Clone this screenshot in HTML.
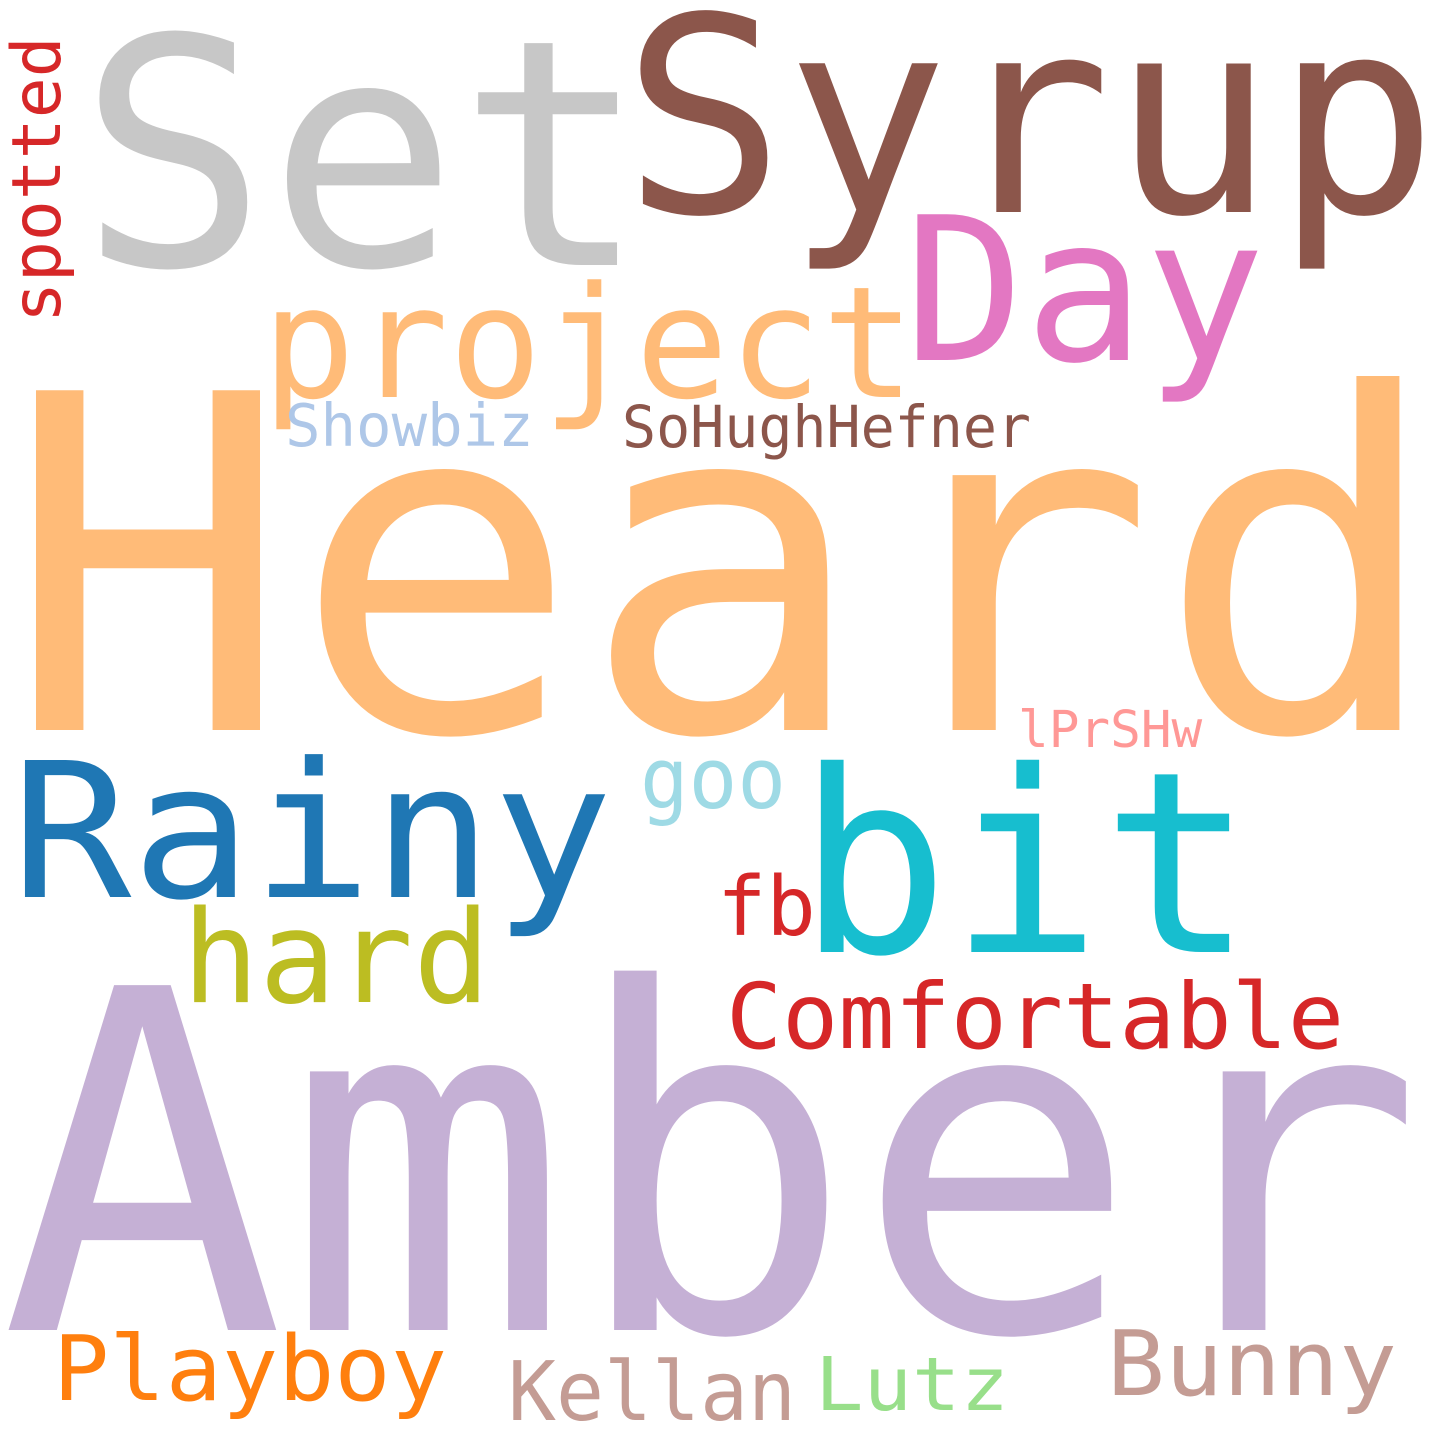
<!DOCTYPE html>
<html><head><meta charset="utf-8"><style>
html,body{margin:0;padding:0;background:#fff;}
svg{display:block;}
text{font-family:"DejaVu Sans Mono","Liberation Mono",monospace;}
</style></head><body>
<svg width="1440" height="1440" viewBox="0 0 1440 1440">
<rect width="1440" height="1440" fill="#fff"/>
<text x="4" y="730" font-size="466" textLength="1440" lengthAdjust="spacingAndGlyphs" fill="#ffbb78">Heard</text>
<text x="0" y="1330" font-size="473" fill="#c5b0d5">Amber</text>
<text x="78" y="265" font-size="316" textLength="570" lengthAdjust="spacingAndGlyphs" fill="#c7c7c7">Set</text>
<text x="622" y="212" font-size="272" textLength="816" lengthAdjust="spacingAndGlyphs" fill="#8c564b">Syrup</text>
<text x="904" y="360" font-size="200" fill="#e377c2">Day</text>
<text x="262" y="397" font-size="155" fill="#ffbb78">project</text>
<text x="285" y="446" font-size="59" fill="#aec7e8">Showbiz</text>
<text x="622" y="447" font-size="58" textLength="409" lengthAdjust="spacingAndGlyphs" fill="#8c564b">SoHughHefner</text>
<text transform="translate(60,323) rotate(-90)" x="0" y="0" font-size="68" fill="#d62728">spotted</text>
<text x="11" y="897" font-size="188" textLength="602" lengthAdjust="spacingAndGlyphs" fill="#1f77b4">Rainy</text>
<text x="640" y="808" font-size="85" textLength="146" lengthAdjust="spacingAndGlyphs" fill="#9edae5">goo</text>
<text x="797" y="952" font-size="253" fill="#17becf">bit</text>
<text x="1018" y="747" font-size="51" fill="#ff9896">lPrSHw</text>
<text x="717" y="935" font-size="82" fill="#d62728">fb</text>
<text x="182" y="1002" font-size="128" fill="#bcbd22">hard</text>
<text x="726" y="1048" font-size="91" textLength="618" lengthAdjust="spacingAndGlyphs" fill="#d62728">Comfortable</text>
<text x="53" y="1400" font-size="90" textLength="394" lengthAdjust="spacingAndGlyphs" fill="#ff7f0e">Playboy</text>
<text x="508" y="1420" font-size="82" textLength="288" lengthAdjust="spacingAndGlyphs" fill="#c49c94">Kellan</text>
<text x="815" y="1410" font-size="74" textLength="194" lengthAdjust="spacingAndGlyphs" fill="#98df8a">Lutz</text>
<text x="1107" y="1395" font-size="90" textLength="290" lengthAdjust="spacingAndGlyphs" fill="#c49c94">Bunny</text>
</svg>
</body></html>
